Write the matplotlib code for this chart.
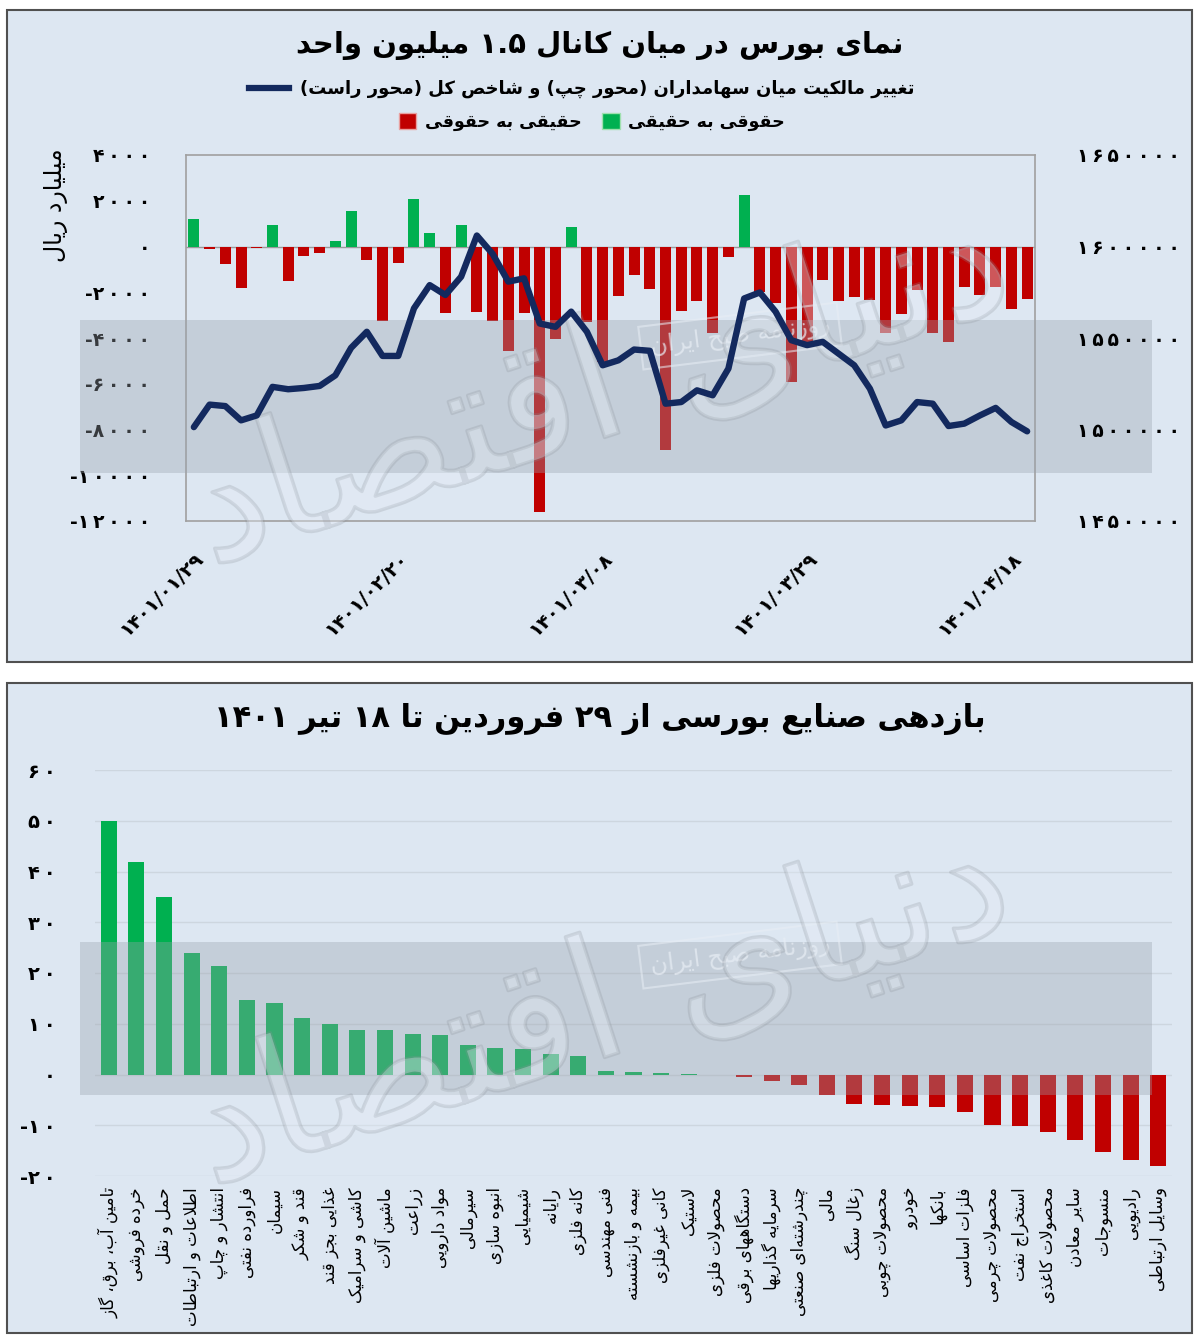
import re
import numpy as np
import matplotlib
matplotlib.use("Agg")
import matplotlib.pyplot as plt
from matplotlib.patches import Rectangle, Patch
from matplotlib.lines import Line2D
import matplotlib.patheffects as pe

plt.rcParams['font.family'] = ['DejaVu Sans']

# ---- data: top chart (54 trading days) ----
flow = [1200, -100, -760, -1830, -70, 960, -1510, -410, -290, 220,
        1540, -580, -3260, -700, 2070, 610, -2900, 920, -2850, -3250,
        -4560, -2900, -11620, -4050, 860, -3300, -5070, -2180, -1250, -1860,
        -8890, -2810, -2370, -3760, -450, 2230, -2010, -2470, -5940, -4190,
        -1470, -2400, -2200, -2340, -3760, -2930, -1910, -3760, -4160, -1790,
        -2100, -1760, -2740, -2290]
index_val = [1501300, 1513600, 1512800, 1505000, 1507700, 1523300, 1522000, 1522700, 1523800, 1529600,
             1544600, 1553400, 1540200, 1540200, 1566200, 1578900, 1573500, 1583500, 1606000, 1596000,
             1580800, 1582600, 1557900, 1556100, 1564400, 1553400, 1535100, 1537800, 1543700, 1543000,
             1514100, 1515000, 1521400, 1518700, 1533300, 1571600, 1574900, 1564400, 1548800, 1546100,
             1547900, 1541500, 1535100, 1522300, 1502200, 1505000, 1515000, 1514100, 1501900, 1503200,
             1507700, 1511800, 1504100, 1499000]
date_ticks = [0, 13, 26, 39, 52]
date_labels = ["1401/01/29", "1401/02/20", "1401/03/08", "1401/03/29", "1401/04/18"]

# ---- data: bottom chart ----
sectors = ["تامین آب، برق، گاز", "خرده فروشی", "حمل و نقل", "اطلاعات و ارتباطات", "انتشار و چاپ",
           "فراورده نفتی", "سیمان", "قند و شکر", "غذایی بجز قند", "کاشی و سرامیک",
           "ماشین آلات", "زراعت", "مواد دارویی", "سیرمالی", "انبوه سازی",
           "شیمیایی", "رایانه", "کانه فلزی", "فنی مهندسی", "بیمه و بازنشسته",
           "کانی غیرفلزی", "لاستیک", "محصولات فلزی", "دستگاههای برقی", "سرمایه گذاریها",
           "چندرشته\u200cای صنعتی", "مالی", "زغال سنگ", "محصولات چوبی", "خودرو",
           "بانکها", "فلزات اساسی", "محصولات چرمی", "استخراج نفت", "محصولات کاغذی",
           "سایر معادن", "منسوجات", "رادیویی", "وسایل ارتباطی"]
returns = [49.9, 41.9, 35.0, 23.9, 21.4, 14.7, 14.1, 11.1, 9.9, 8.8,
           8.8, 7.9, 7.7, 5.8, 5.3, 5.1, 4.0, 3.7, 0.65, 0.55,
           0.35, 0.08, -0.1, -0.4, -1.3, -2.1, -4.1, -5.8, -6.0, -6.3,
           -6.5, -7.4, -9.9, -10.1, -11.4, -13.0, -15.3, -16.8, -18.1]

GREEN = '#00b050'
RED = '#c00000'
NAVY = '#13295e'
BG = '#dde7f2'

# ---- minimal persian shaping (presentation forms) + rtl ordering ----
F = {
    'ا': ('\uFE8D', '\uFE8E', None, None), 'آ': ('\uFE81', '\uFE82', None, None),
    'ب': ('\uFE8F', '\uFE90', '\uFE91', '\uFE92'), 'پ': ('\uFB56', '\uFB57', '\uFB58', '\uFB59'),
    'ت': ('\uFE95', '\uFE96', '\uFE97', '\uFE98'), 'ث': ('\uFE99', '\uFE9A', '\uFE9B', '\uFE9C'),
    'ج': ('\uFE9D', '\uFE9E', '\uFE9F', '\uFEA0'), 'چ': ('\uFB7A', '\uFB7B', '\uFB7C', '\uFB7D'),
    'ح': ('\uFEA1', '\uFEA2', '\uFEA3', '\uFEA4'), 'خ': ('\uFEA5', '\uFEA6', '\uFEA7', '\uFEA8'),
    'د': ('\uFEA9', '\uFEAA', None, None), 'ذ': ('\uFEAB', '\uFEAC', None, None),
    'ر': ('\uFEAD', '\uFEAE', None, None), 'ز': ('\uFEAF', '\uFEB0', None, None),
    'ژ': ('\uFB8A', '\uFB8B', None, None),
    'س': ('\uFEB1', '\uFEB2', '\uFEB3', '\uFEB4'), 'ش': ('\uFEB5', '\uFEB6', '\uFEB7', '\uFEB8'),
    'ص': ('\uFEB9', '\uFEBA', '\uFEBB', '\uFEBC'), 'ض': ('\uFEBD', '\uFEBE', '\uFEBF', '\uFEC0'),
    'ط': ('\uFEC1', '\uFEC2', '\uFEC3', '\uFEC4'), 'ظ': ('\uFEC5', '\uFEC6', '\uFEC7', '\uFEC8'),
    'ع': ('\uFEC9', '\uFECA', '\uFECB', '\uFECC'), 'غ': ('\uFECD', '\uFECE', '\uFECF', '\uFED0'),
    'ف': ('\uFED1', '\uFED2', '\uFED3', '\uFED4'), 'ق': ('\uFED5', '\uFED6', '\uFED7', '\uFED8'),
    'ک': ('\uFB8E', '\uFB8F', '\uFB90', '\uFB91'), 'گ': ('\uFB92', '\uFB93', '\uFB94', '\uFB95'),
    'ل': ('\uFEDD', '\uFEDE', '\uFEDF', '\uFEE0'), 'م': ('\uFEE1', '\uFEE2', '\uFEE3', '\uFEE4'),
    'ن': ('\uFEE5', '\uFEE6', '\uFEE7', '\uFEE8'), 'ه': ('\uFEE9', '\uFEEA', '\uFEEB', '\uFEEC'),
    'و': ('\uFEED', '\uFEEE', None, None), 'ی': ('\uFBFC', '\uFBFD', '\uFBFE', '\uFBFF'),
    'ئ': ('\uFE89', '\uFE8A', '\uFE8B', '\uFE8C'),
}
FA_DIGITS = str.maketrans('0123456789', '۰۱۲۳۴۵۶۷۸۹')


def fa(s):
    return str(s).translate(FA_DIGITS)


def shape(text):
    out = []
    i = 0
    n = len(text)
    while i < n:
        c = text[i]
        if c not in F:
            out.append(c)
            i += 1
            continue
        prev = text[i - 1] if i > 0 else None
        jp = prev in F and F[prev][2] is not None
        nxt = text[i + 1] if i + 1 < n else None
        if c == 'ل' and nxt in ('ا', 'آ'):
            lig = ('\uFEFB', '\uFEFC') if nxt == 'ا' else ('\uFEF5', '\uFEF6')
            out.append(lig[1] if jp else lig[0])
            i += 2
            continue
        jn = nxt in F and F[c][2] is not None
        iso, fin, ini, med = F[c]
        if jp and jn:
            out.append(med)
        elif jp:
            out.append(fin)
        elif jn:
            out.append(ini)
        else:
            out.append(iso)
        i += 1
    return ''.join(out)


def rtl(text):
    s = shape(fa(text)).replace('\u200c', '')[::-1]
    s = re.sub(r'[0-9۰-۹]+(?:[./][0-9۰-۹]+)*', lambda m: m.group(0)[::-1], s)
    return s.translate(str.maketrans('()', ')('))


def spaced(s):
    return '\u2009'.join(fa(s))


W, H = 1200, 1338
fig = plt.figure(figsize=(12, 13.38), dpi=100)
fig.patch.set_facecolor('white')


def fx(x):
    return x / W


def fy(y):
    return 1 - y / H


# panel backgrounds
for (x0, y0, x1, y1) in [(7, 10, 1192, 662), (7, 683, 1192, 1333)]:
    fig.add_artist(Rectangle((fx(x0), fy(y1)), fx(x1 - x0), (y1 - y0) / H, transform=fig.transFigure,
                             facecolor=BG, edgecolor='#505050', lw=1.5, zorder=0))

# ---------------- top chart ----------------
ax = fig.add_axes([fx(186), fy(521), fx(1035 - 186), 366 / H])
ax.set_facecolor('none')
x = np.arange(len(flow))
colors = [GREEN if v > 0 else RED for v in flow]
ax.bar(x, flow, width=0.7, color=colors, zorder=2)
ax.axhline(0, color='#9a9a9a', lw=1, zorder=1)
ax.set_xlim(-0.5, len(flow) - 0.5)
ax.set_ylim(-12000, 4000)
ax.set_yticks(range(-12000, 4001, 2000))
ax.set_yticklabels([('-' if v < 0 else '') + spaced(abs(v)) for v in range(-12000, 4001, 2000)],
                   fontsize=13.5, fontweight='bold')
ax.tick_params(axis='y', length=0, pad=26)
ax.set_xticks(date_ticks)
ax.set_xticklabels([fa(d) for d in date_labels], rotation=45, ha='right', rotation_mode='anchor',
                   fontsize=14, fontweight='bold')
ax.tick_params(axis='x', length=0, pad=20)
for sp in ax.spines.values():
    sp.set_color('#a0a0a0')
    sp.set_linewidth(1.2)

ax2 = ax.twinx()
ax2.set_zorder(20)  # index line stays above the grey watermark band
ax2.plot(x, index_val, color=NAVY, lw=4.6, solid_joinstyle='round', solid_capstyle='round', zorder=3)
ax2.set_ylim(1450000, 1650000)
ax2.set_yticks(range(1450000, 1650001, 50000))
ax2.set_yticklabels([spaced(v) for v in range(1450000, 1650001, 50000)], fontsize=13.5, fontweight='bold')
ax2.tick_params(axis='y', length=0, pad=30)
for sp in ax2.spines.values():
    sp.set_visible(False)

fig.text(fx(600), fy(45), rtl("نمای بورس در میان کانال 1.5 میلیون واحد"), ha='center', va='center',
         fontsize=21, fontweight='bold')
fig.text(fx(56), fy(205), rtl("میلیارد ریال"), rotation=90, ha='center', va='center', fontsize=17)

fig.legend([Line2D([0], [0], color=NAVY, lw=4.5)],
           [rtl("تغییر مالکیت میان سهامداران (محور چپ) و شاخص کل (محور راست)")],
           loc='center', bbox_to_anchor=(fx(582), fy(89)), frameon=False,
           prop={'size': 13, 'weight': 'bold'}, handlelength=2.2, handletextpad=0.6)
fig.legend([Patch(facecolor=RED, edgecolor='#e8a0a0'), Patch(facecolor=GREEN, edgecolor='#a0e0b0')],
           [rtl("حقیقی به حقوقی"), rtl("حقوقی به حقیقی")], ncol=2,
           loc='center', bbox_to_anchor=(fx(592), fy(122)), frameon=False,
           prop={'size': 12.5, 'weight': 'bold'}, handlelength=1.0, handleheight=1.0,
           handletextpad=0.5, columnspacing=1.2)

# ---------------- bottom chart ----------------
bx = fig.add_axes([fx(95), fy(1176), fx(1172 - 95), 406 / H])
bx.set_facecolor('none')
xb = np.arange(len(returns))
bcolors = [GREEN if v > 0 else RED for v in returns]
bx.bar(xb, returns, width=0.58, color=bcolors, zorder=2)
bx.set_xlim(-0.5, len(returns) - 0.5)
bx.set_ylim(-20, 60)
bx.set_yticks(range(-20, 61, 10))
bx.set_yticklabels([('-' if v < 0 else '') + spaced(abs(v)) for v in range(-20, 61, 10)],
                   fontsize=14, fontweight='bold')
bx.tick_params(axis='y', length=0, pad=28)
bx.grid(axis='y', color='#cdd6df', lw=1, zorder=0)
bx.set_xticks(xb)
bx.set_xticklabels([rtl(s) for s in sectors], rotation=90, ha='center', va='top', fontsize=12)
bx.tick_params(axis='x', length=0, pad=8)
for sp in bx.spines.values():
    sp.set_visible(False)

fig.text(fx(600), fy(719), rtl("بازدهی صنایع بورسی از 29 فروردین تا 18 تیر 1401"), ha='center', va='center',
         fontsize=22, fontweight='bold')

# ---------------- watermark: gray band, stamp, calligraphy ----------------
for (yt, yb) in [(320, 473), (942, 1095)]:
    fig.add_artist(Rectangle((fx(80), fy(yb)), fx(1152 - 80), (yb - yt) / H, transform=fig.transFigure,
                             facecolor='#9aa3ad', alpha=0.36, edgecolor='none', zorder=10))
for (sx, sy) in [(740, 336), (740, 955)]:
    fig.text(fx(sx), fy(sy), rtl("روزنامه صبح ایران"), rotation=7, ha='center', va='center',
             fontsize=17, color='#e8eef5', alpha=0.7, zorder=11,
             bbox=dict(boxstyle='square,pad=0.4', facecolor='none', edgecolor='#e8eef5', alpha=0.55, lw=1.5))
for (cx, cy) in [(600, 390), (600, 1010)]:
    fig.text(fx(cx), fy(cy), rtl("دنیای اقتصاد"), rotation=18, ha='center', va='center',
             fontsize=120, color='#e6eef7', alpha=0.16, zorder=11,
             path_effects=[pe.withStroke(linewidth=2.5, foreground='#8a9098', alpha=0.25)])

fig.savefig('out.png', dpi=100, facecolor=fig.get_facecolor())
